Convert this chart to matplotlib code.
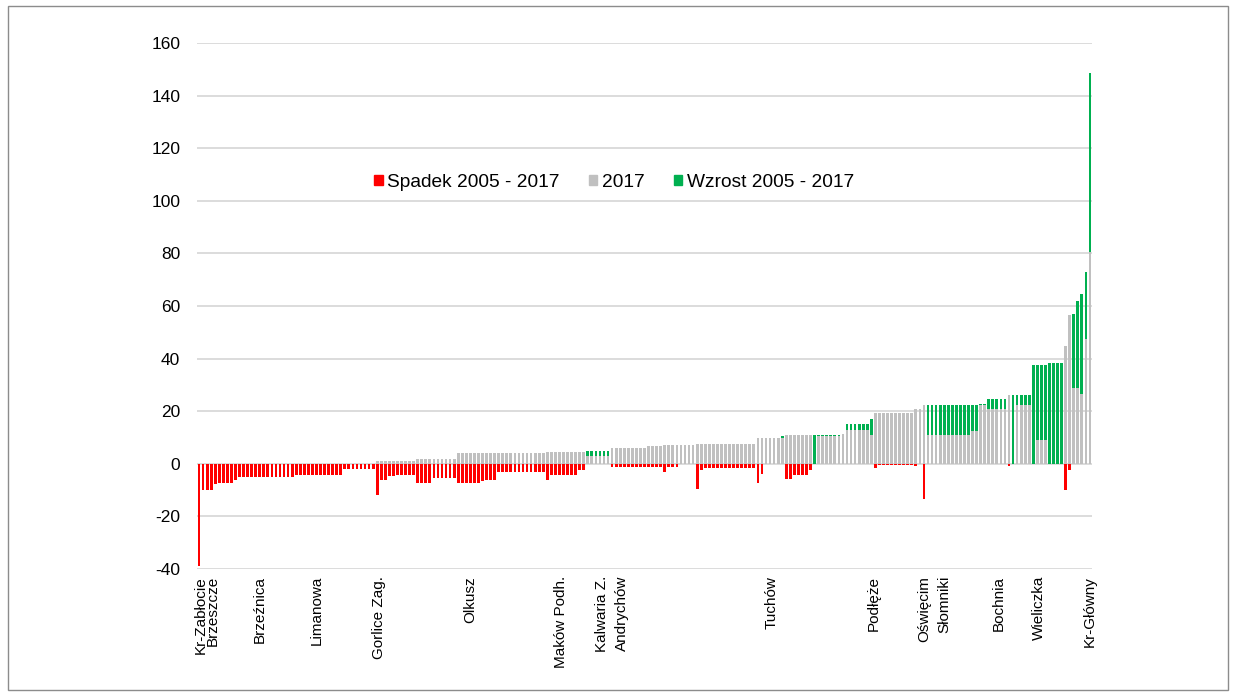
import matplotlib
matplotlib.use("Agg")
import matplotlib.pyplot as plt
from matplotlib.patches import Patch, Rectangle

plt.rcParams['font.family'] = ['Liberation Sans', 'DejaVu Sans']

# gray part: 2017 value (or 2005 value when it grew)
base = [
 0,0,0,0,0,0,0,0,0,0, 0,0,0,0,0,0,0,0,0,0,
 0,0,0,0,0,0,0,0,0,0, 0,0,0,0,0,0,0,0,0,0,
 0,0,0,0,1,1,1,1,1,1, 1,1,1,1,2,2,2,2,2,2,
 2,2,2,2,4,4,4,4,4,4, 4,4,4,4,4,4,4,4,4,4,
 4,4,4,4,4,4,4.5,4.5,4.5,4.5, 4.5,4.5,4.5,4.5,4.5,4.5,2.8,2.8,2.8,2.8,
 2.8,2.8,6,6,6,6,6,6,6,6, 6,6.6,6.6,6.6,6.6,7,7,7,7,7,
 7,7,7,7.4,7.4,7.4,7.4,7.4,7.4,7.4, 7.4,7.4,7.4,7.4,7.4,7.4,7.4,7.4,10,10,
 10,10,10,10,10,11,11,11,11,11, 11,11,0,10.5,10.5,10.5,10.5,10.5,10.5,11.3,
 12.9,12.9,12.9,12.9,12.9,13,11,19.2,19.2,19.2, 19.2,19.2,19.2,19.2,19.2,19.2,19.2,21,21,22.2,
 11,11,11,11,11,11,11,11,11,11, 11,12.3,12.3,22.5,22.5,21,21,21,21,21,
 26,0,22.2,22.2,22.2,22.2,0,9,9,9, 0,0,0,0,44.7,56.7,29,29,26.5,47.5,
 80.5]

# green: increase 2005-2017
increase = [
 0,0,0,0,0,0,0,0,0,0, 0,0,0,0,0,0,0,0,0,0,
 0,0,0,0,0,0,0,0,0,0, 0,0,0,0,0,0,0,0,0,0,
 0,0,0,0,0,0,0,0,0,0, 0,0,0,0,0,0,0,0,0,0,
 0,0,0,0,0,0,0,0,0,0, 0,0,0,0,0,0,0,0,0,0,
 0,0,0,0,0,0,0,0,0,0, 0,0,0,0,0,0,1.9,1.9,1.9,1.9,
 1.9,1.9,0,0,0,0,0,0,0,0, 0,0,0,0,0,0,0,0,0,0,
 0,0,0,0,0,0,0,0,0,0, 0,0,0,0,0,0,0,0,0,0,
 0,0,0,0,0.5,0,0,0,0,0, 0,0,11,0.5,0.5,0.5,0.5,0.5,0.5,0,
 2.2,2.2,2.2,2.2,2.2,2.1,6,0,0,0, 0,0,0,0,0,0,0,0,0,0,
 11.2,11.2,11.2,11.2,11.2,11.2,11.2,11.2,11.2,11.2, 11.2,9.9,9.9,0.3,0.3,3.7,3.7,3.7,3.7,3.7,
 0,26,3.8,3.8,3.8,3.8,37.4,28.4,28.4,28.4, 38.4,38.4,38.4,38.4,0,0,28,33,38,25.5,
 68]

# red: decrease 2005-2017 (magnitude)
decrease = [
 39,10,10,10,7.6,7.3,7.3,7.3,7.3,6, 5.2,5.2,5.2,5.2,5.2,5.2,5.2,5.2,5.2,5.2,
 5.2,5.2,5.2,5.2,4.2,4.2,4.2,4.2,4.2,4.2, 4.2,4.2,4.2,4.2,4.2,4.2,2,2,2,2,
 2,2,2,2,12,6.3,6.3,4.6,4.6,4.2, 4.2,4.2,4.2,4.2,7.3,7.3,7.3,7.3,5.3,5.3,
 5.3,5.3,5.3,5.3,7.3,7.3,7.3,7.3,7.3,7.3, 6.5,6,6,6,3.2,3.2,3.2,3.2,3.2,3.2,
 3.2,3.2,3.2,3.2,3.2,3.2,6.3,4.3,4.3,4.3, 4.3,4.3,4.3,4.3,2.5,2.5,0,0,0,0,
 0,0,1.2,1.2,1.2,1.2,1.2,1.2,1.2,1.2, 1.2,1.2,1.2,1.2,1.2,3,1.2,1.2,1.2,0,
 0,0,0,9.7,2.4,1.6,1.6,1.6,1.6,1.6, 1.6,1.6,1.6,1.6,1.6,1.6,1.6,1.6,7.2,3.7,
 0,0,0,0,0,5.6,5.6,4.4,4.4,4.4, 4.4,2.3,0,0,0,0,0,0,0,0,
 0,0,0,0,0,0,0,1.5,0.5,0.5, 0.5,0.5,0.5,0.5,0.5,0.5,0.5,1,0,13.4,
 0,0,0,0,0,0,0,0,0,0, 0,0,0,0,0,0,0,0,0,0,
 1,0,0,0,0,0,0,0,0,0, 0,0,0,0,10,2.2,0,0,0,0,
 0]

label_pos = [0.4, 3.4, 15, 29, 44.5, 67, 89.5, 99.5, 104.5, 141.5, 166.5, 179, 184, 197.5, 207.5, 220]
label_names = ["Kr-Zabłocie", "Brzeszcze", "Brzeźnica", "Limanowa", "Gorlice Zag.",
               "Olkusz", "Maków Podh.", "Kalwaria Z.", "Andrychów", "Tuchów",
               "Podłęże", "Oświęcim", "Słomniki", "Bochnia", "Wieliczka", "Kr-Główny"]

y_ticks = [-40, -20, 0, 20, 40, 60, 80, 100, 120, 140, 160]
legend_names = ["Spadek 2005 - 2017", "2017", "Wzrost 2005 - 2017"]

RED = "#FF0000"
GRAY = "#C0C0C0"
GREEN = "#00B050"

fig = plt.figure(figsize=(12.35, 6.93), dpi=100)
ax = fig.add_axes([197/1235, 1 - 569/693, (1092-197)/1235, (569-43)/693])

x = list(range(len(base)))
w = 0.68
ax.bar(x, base, width=w, color=GRAY, zorder=2)
ax.bar(x, increase, width=w, bottom=base, color=GREEN, zorder=3)
ax.bar(x, [-d for d in decrease], width=w, color=RED, zorder=3)

ax.set_xlim(-0.5, len(base) - 0.5)
ax.set_ylim(-40, 160)
ax.set_yticks(y_ticks)
ax.set_yticklabels([str(v) for v in y_ticks], fontsize=12.5)
ax.yaxis.grid(True, color="#D9D9D9", linewidth=1.3, zorder=0)
ax.set_axisbelow(True)
ax.tick_params(axis='y', length=0, pad=12)
ax.set_xticks(label_pos)
ax.set_xticklabels(label_names, rotation=90, fontsize=11, va='top', ha='center')
ax.tick_params(axis='x', length=0, pad=5)
for s in ax.spines.values():
    s.set_visible(False)

handles = [Patch(color=c) for c in (RED, GRAY, GREEN)]
ax.legend(handles, legend_names, loc='center', bbox_to_anchor=(0.466, 0.735),
          ncol=3, frameon=False, fontsize=13.8, handlelength=0.45, handleheight=0.45,
          handletextpad=0.25, columnspacing=1.5)

fig.patches.append(Rectangle((8/1235, 3/693), 1220/1235, 684/693, transform=fig.transFigure,
                             fill=False, edgecolor="#8C8C8C", linewidth=1))

fig.savefig("out.png", dpi=100)
